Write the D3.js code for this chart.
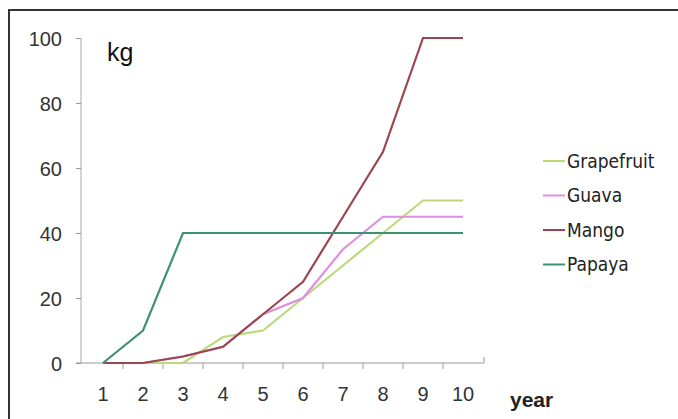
<!DOCTYPE html>
<html><head><meta charset="utf-8">
<script src="https://cdn.jsdelivr.net/npm/d3@7"></script>
<style>
html,body{margin:0;padding:0;background:#fff;}
svg{display:block;}
.tick text{font-family:"Liberation Sans",Arial,sans-serif;}
</style></head>
<body>
<script>
const years = [1,2,3,4,5,6,7,8,9,10];
const seriesNames = ["Grapefruit","Guava","Mango","Papaya"];
const grapefruit = [0,0,0,8,10,20,30,40,50,50];
const guava = [0,0,2,5,15,20,35,45,45,45];
const mango = [0,0,2,5,15,25,45,65,100,100];
const papaya = [0,10,40,40,40,40,40,40,40,40];
const yTicks = [0,20,40,60,80,100];
const colors = ["#bcd97a","#de8ede","#9a4650","#3f9271"];
const seriesValues = [grapefruit,guava,mango,papaya];

const W=678,H=419;
const svg=d3.select("body").append("svg").attr("width",W).attr("height",H);
svg.append("rect").attr("width",W).attr("height",H).attr("fill","#fff");
// frame
svg.append("path").attr("d",`M9,${H+5}V10H${W+5}`).attr("fill","none").attr("stroke","#333").attr("stroke-width",2);

const x=d3.scaleBand().domain(years).range([83,483]).padding(0);
const y=d3.scaleLinear().domain([0,100]).range([363,38]);

// y axis
const ya=svg.append("g").attr("transform","translate(81,0)")
 .call(d3.axisLeft(y).tickValues(yTicks).tickSize(5).tickPadding(14));
ya.select(".domain").attr("stroke","#aaa").attr("d","M0,38V363");
ya.selectAll(".tick line").attr("stroke","#999");
ya.selectAll(".tick text").attr("font-size",20).attr("fill","#333").attr("dy","0.36em");

// x axis
const xa=svg.append("g").attr("transform","translate(0,363)")
 .call(d3.axisBottom(x).tickSize(0).tickPadding(30));
xa.select(".domain").attr("stroke","#999").attr("d","M76,0H484V-6");
xa.selectAll(".tick text").attr("font-size",20).attr("fill","#333").attr("dy","0.4em");
xa.selectAll(".tick line").remove();
// between-category ticks
svg.append("g").selectAll("line").data(years.slice(0,-1)).join("line")
 .attr("x1",d=>x(d)+x.bandwidth()).attr("x2",d=>x(d)+x.bandwidth())
 .attr("y1",363).attr("y2",369).attr("stroke","#999");

// lines
const line=d3.line().x((d,i)=>x(years[i])+x.bandwidth()/2).y(d=>y(d));
seriesValues.forEach((vals,k)=>{
  svg.append("path").datum(vals).attr("d",line).attr("fill","none")
   .attr("stroke",colors[k]).attr("stroke-width",2.2).attr("stroke-linejoin","miter");
});

// labels
svg.append("text").attr("x",107).attr("y",61).attr("font-family","Liberation Sans,Arial,sans-serif")
 .attr("font-size",25).attr("fill","#111").text("kg");
svg.append("text").attr("x",510).attr("y",407).attr("font-family","Liberation Sans,Arial,sans-serif")
 .attr("font-size",21).attr("font-weight","bold").attr("fill","#222").text("year");

// legend
const lg=svg.append("g");
seriesNames.forEach((n,k)=>{
  const yy=161+k*34.5;
  lg.append("line").attr("x1",543).attr("x2",565).attr("y1",yy).attr("y2",yy).attr("stroke",colors[k]).attr("stroke-width",2);
  lg.append("text").attr("x",567).attr("y",yy).attr("dy","0.36em")
   .attr("font-family","DejaVu Sans Condensed,DejaVu Sans,sans-serif").attr("font-stretch","condensed")
   .attr("font-size",19).attr("fill","#222").text(n);
});
</script>
</body></html>
